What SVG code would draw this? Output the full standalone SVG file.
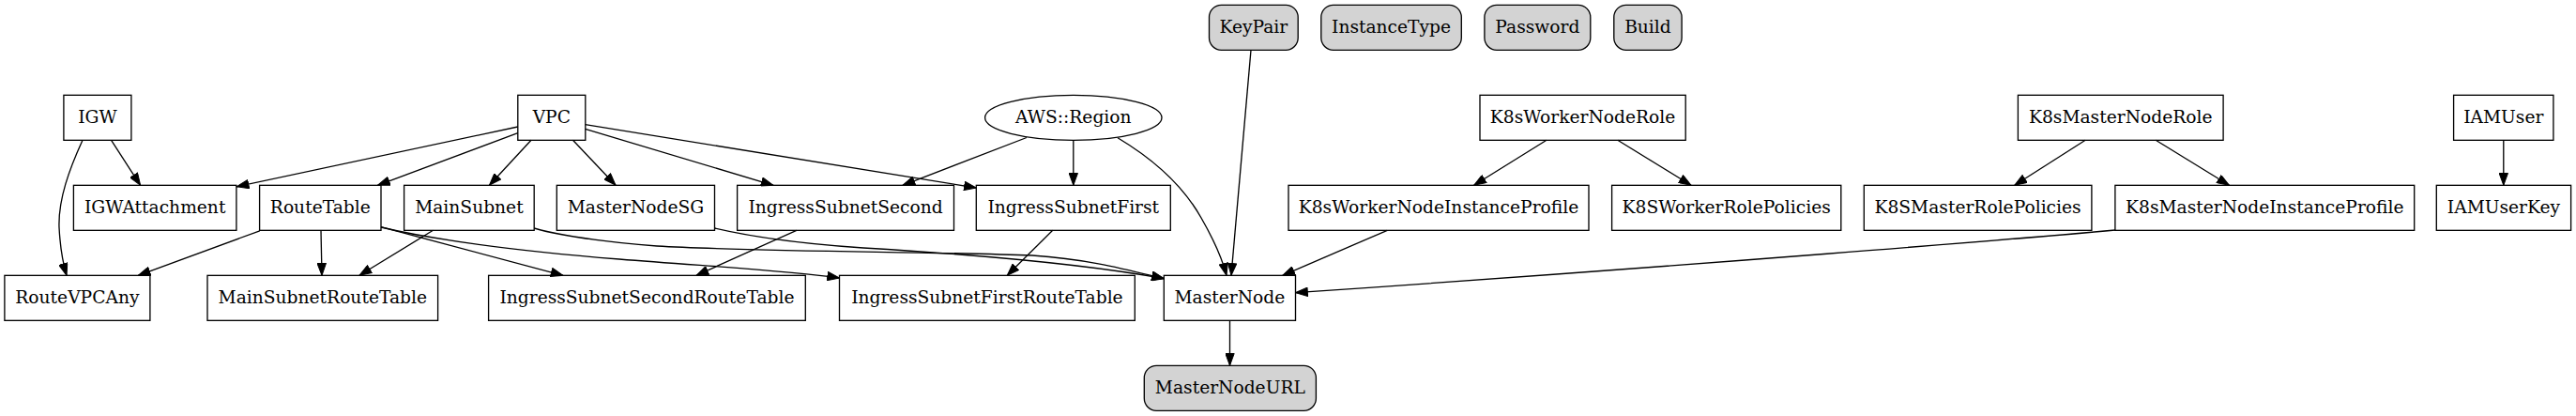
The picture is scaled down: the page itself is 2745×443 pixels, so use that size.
<svg xmlns="http://www.w3.org/2000/svg" width="2745" height="443" viewBox="0 0 2745 443">
<style>
.n rect, .n ellipse { fill: none; stroke: #000; stroke-width: 1.33; }
.p rect { fill: #d3d3d3; stroke: #000; stroke-width: 1.33; }
text { font-family: "DejaVu Serif", "Liberation Serif", serif; font-size: 18.67px; text-anchor: middle; fill: #000; }
#edges path { fill: none; stroke: #000; stroke-width: 1.33; marker-end: url(#ah); }
</style>
<defs>
<marker id="ah" viewBox="0 0 14 10" refX="13.33" refY="5" markerWidth="14" markerHeight="10" markerUnits="userSpaceOnUse" orient="auto">
<path d="M0.5,0.33 L13.33,5 L0.5,9.67 Z" fill="#000" stroke="#000" stroke-width="1"/>
</marker>
</defs>
<rect x="0" y="0" width="2745" height="443" fill="#fff"/>

<g id="edges">
<path d="M118.6,149.3 L149.6,197.3"/>
<path d="M88,149.3 C74,180 62,212 63,242 C64,262 67,280 71,293.3"/>
<path d="M551.8,135 L252.2,198.8"/>
<path d="M551.8,141.7 L402.5,197.3"/>
<path d="M566,149.3 L521.5,197.3"/>
<path d="M610.5,149.3 L656,197.3"/>
<path d="M623.7,137.3 L824,197.3"/>
<path d="M623.7,132.7 L1040.3,200"/>
<path d="M1094,146.5 L962,197.3"/>
<path d="M1143.8,149.3 L1143.8,197.3"/>
<path d="M1191,146.7 C1230,170 1262,200 1280,232 C1295,258 1303,278 1307,293.3"/>
<path d="M1333,53.3 L1312,293.3"/>
<path d="M276.8,245.8 L147.3,293.3"/>
<path d="M342,245.3 L343,293.3"/>
<path d="M461.5,245.3 L383,293.3"/>
<path d="M406,241.7 L600,293.3"/>
<path d="M406,242 C470,257 560,268 660,276 C760,284 840,288 894.5,296"/>
<path d="M569.2,243 C600,252 650,258 700,262 C800,268 1000,268 1100,272 C1160,276 1200,287 1240.3,296.7"/>
<path d="M761.5,243 C800,252 860,260 920,264 C1020,270 1150,280 1240.3,296.7"/>
<path d="M848.8,245.3 L742,293.3"/>
<path d="M1121.7,245.3 L1073.3,293.3"/>
<path d="M1648,149.3 L1570.7,197.3"/>
<path d="M1723.8,149.3 L1802,197.3"/>
<path d="M1478.3,245.3 L1366.7,293.3"/>
<path d="M2254,245 C2180,252 1800,283 1380.5,311.7"/>
<path d="M2222.2,149.3 L2146.8,197.3"/>
<path d="M2297.2,149.3 L2375.4,197.3"/>
<path d="M1310.5,341.3 L1310.5,389.3"/>
<path d="M2667.8,149.3 L2667.8,197.3"/>
</g>

<g id="KeyPair" class="p"><rect x="1288.5" y="5.33" width="94.7" height="48" rx="13"/><text x="1335.85" y="34.6">KeyPair</text></g>
<g id="InstanceType" class="p"><rect x="1407.8" y="5.33" width="149.5" height="48" rx="13"/><text x="1482.55" y="34.6">InstanceType</text></g>
<g id="Password" class="p"><rect x="1581.9" y="5.33" width="112.9" height="48" rx="13"/><text x="1638.35" y="34.6">Password</text></g>
<g id="Build" class="p"><rect x="1719.8" y="5.33" width="72.3" height="48" rx="13"/><text x="1755.95" y="34.6">Build</text></g>

<g id="IGW" class="n"><rect x="67.9" y="101.33" width="72" height="48"/><text x="103.9" y="130.6">IGW</text></g>
<g id="VPC" class="n"><rect x="551.8" y="101.33" width="72" height="48"/><text x="587.8" y="130.6">VPC</text></g>
<g id="AWSRegion" class="n"><ellipse cx="1143.8" cy="125.33" rx="94.2" ry="24"/><text x="1143.8" y="130.6">AWS::Region</text></g>
<g id="K8sWorkerNodeRole" class="n"><rect x="1577" y="101.33" width="219.2" height="48"/><text x="1686.6" y="130.6">K8sWorkerNodeRole</text></g>
<g id="K8sMasterNodeRole" class="n"><rect x="2150.4" y="101.33" width="218.7" height="48"/><text x="2259.75" y="130.6">K8sMasterNodeRole</text></g>
<g id="IAMUser" class="n"><rect x="2614.6" y="101.33" width="106.3" height="48"/><text x="2667.75" y="130.6">IAMUser</text></g>

<g id="IGWAttachment" class="n"><rect x="78.4" y="197.33" width="173.5" height="48"/><text x="165.15" y="226.6">IGWAttachment</text></g>
<g id="RouteTable" class="n"><rect x="276.6" y="197.33" width="129.4" height="48"/><text x="341.3" y="226.6">RouteTable</text></g>
<g id="MainSubnet" class="n"><rect x="430.6" y="197.33" width="138.6" height="48"/><text x="499.9" y="226.6">MainSubnet</text></g>
<g id="MasterNodeSG" class="n"><rect x="593.3" y="197.33" width="168.2" height="48"/><text x="677.4" y="226.6">MasterNodeSG</text></g>
<g id="IngressSubnetSecond" class="n"><rect x="785.6" y="197.33" width="230.9" height="48"/><text x="901.05" y="226.6">IngressSubnetSecond</text></g>
<g id="IngressSubnetFirst" class="n"><rect x="1040.3" y="197.33" width="207" height="48"/><text x="1143.8" y="226.6">IngressSubnetFirst</text></g>
<g id="K8sWorkerNodeInstanceProfile" class="n"><rect x="1373" y="197.33" width="320" height="48"/><text x="1533" y="226.6">K8sWorkerNodeInstanceProfile</text></g>
<g id="K8SWorkerRolePolicies" class="n"><rect x="1717.6" y="197.33" width="244.2" height="48"/><text x="1839.7" y="226.6">K8SWorkerRolePolicies</text></g>
<g id="K8SMasterRolePolicies" class="n"><rect x="1986.3" y="197.33" width="242.6" height="48"/><text x="2107.6" y="226.6">K8SMasterRolePolicies</text></g>
<g id="K8sMasterNodeInstanceProfile" class="n"><rect x="2253.9" y="197.33" width="318.8" height="48"/><text x="2413.3" y="226.6">K8sMasterNodeInstanceProfile</text></g>
<g id="IAMUserKey" class="n"><rect x="2596.3" y="197.33" width="143.3" height="48"/><text x="2667.95" y="226.6">IAMUserKey</text></g>

<g id="RouteVPCAny" class="n"><rect x="4.9" y="293.33" width="155" height="48"/><text x="82.4" y="322.6">RouteVPCAny</text></g>
<g id="MainSubnetRouteTable" class="n"><rect x="221" y="293.33" width="245.6" height="48"/><text x="343.8" y="322.6">MainSubnetRouteTable</text></g>
<g id="IngressSubnetSecondRouteTable" class="n"><rect x="520.6" y="293.33" width="337.7" height="48"/><text x="689.45" y="322.6">IngressSubnetSecondRouteTable</text></g>
<g id="IngressSubnetFirstRouteTable" class="n"><rect x="894.5" y="293.33" width="314.8" height="48"/><text x="1051.9" y="322.6">IngressSubnetFirstRouteTable</text></g>
<g id="MasterNode" class="n"><rect x="1240.3" y="293.33" width="140.2" height="48"/><text x="1310.4" y="322.6">MasterNode</text></g>

<g id="MasterNodeURL" class="p"><rect x="1219.3" y="389.33" width="183.1" height="48" rx="13"/><text x="1310.85" y="418.6">MasterNodeURL</text></g>
</svg>
